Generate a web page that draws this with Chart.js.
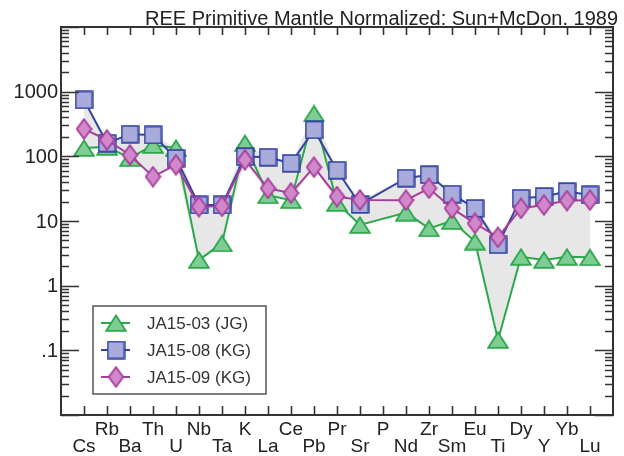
<!DOCTYPE html>
<html>
<head>
<meta charset="utf-8">
<script src="https://cdn.jsdelivr.net/npm/chart.js@4.4.1/dist/chart.umd.min.js"></script>
<style>
  html, body { margin: 0; padding: 0; background: #fff; }
  #wrap { width: 624px; height: 456px; position: relative; }
</style>
</head>
<body>
<div id="wrap"><canvas id="spider"></canvas></div>
<script>
// element order on the spider diagram
const elements = ['Cs', 'Rb', 'Ba', 'Th', 'U', 'Nb', 'Ta', 'K', 'La', 'Ce', 'Pb', 'Pr', 'Sr', 'P', 'Nd', 'Zr', 'Sm', 'Eu', 'Ti', 'Dy', 'Y', 'Yb', 'Lu'];

// normalized values (no P analysis -> null)
const ja1503 = [135, 140, 94, 150, 135, 2.5, 4.5, 160, 25, 21, 460, 19, 8.7, null, 13.5, 7.7, 10, 4.8, 0.145, 2.8, 2.5, 2.8, 2.75];
const ja1508 = [745, 160, 220, 214, 93, 17.7, 17.7, 99, 97, 78, 256, 61, 18, null, 46, 52, 26, 15.7, 4.3, 22.5, 24, 28.5, 25.3];
const ja1509 = [265, 179, 105, 48.5, 74, 16.7, 16.9, 88, 32, 27, 68, 23.9, 21.2, null, 21, 32, 15.7, 9.2, 5.6, 15.7, 17.7, 20.7, 21];

const seriesNames = ['JA15-03 (JG)', 'JA15-08 (KG)', 'JA15-09 (KG)'];

const yTickValues = [1000, 100, 10, 1, 0.1];
const yTickLabels = ['1000', '100', '10', '1', '.1'];

const titleText = 'REE Primitive Mantle Normalized: Sun+McDon. 1989';

const FONT = '"Liberation Sans", Arial, Helvetica, sans-serif';

function toPoints(vals) {
    return vals.map((v, i) => ({ x: i, y: v })).filter(p => p.y !== null);
}

// upper / lower bounds of all samples for the grey band
const upper = elements.map((e, i) => {
    const v = [ja1503[i], ja1508[i], ja1509[i]].filter(n => n !== null);
    return v.length ? Math.max(...v) : null;
});
const lower = elements.map((e, i) => {
    const v = [ja1503[i], ja1508[i], ja1509[i]].filter(n => n !== null);
    return v.length ? Math.min(...v) : null;
});

// marker sprites
function makeMarker(kind, fill, stroke) {
    const c = document.createElement('canvas');
    let w, h;
    if (kind === 'tri') { w = 22; h = 18; }
    else if (kind === 'sq') { w = 19; h = 19; }
    else { w = 17; h = 22; }
    c.width = w; c.height = h;
    const g = c.getContext('2d');
    g.fillStyle = fill;
    g.strokeStyle = stroke;
    g.lineWidth = 1.8;
    g.lineJoin = 'miter';
    g.beginPath();
    if (kind === 'tri') {
        g.moveTo(w / 2, 1.5);
        g.lineTo(w - 1.2, h - 1.2);
        g.lineTo(1.2, h - 1.2);
    } else if (kind === 'sq') {
        g.rect(1.2, 1.2, w - 2.4, h - 2.4);
    } else {
        g.moveTo(w / 2, 1.2);
        g.lineTo(w - 1.2, h / 2);
        g.lineTo(w / 2, h - 1.2);
        g.lineTo(1.2, h / 2);
    }
    g.closePath();
    g.fill();
    g.stroke();
    return c;
}

const colors = [
    { line: '#2aa84a', fill: '#80cc95' },
    { line: '#3544a3', fill: '#a9acdb' },
    { line: '#a63d9c', fill: '#d188ca' }
];
const markers = [
    makeMarker('tri', colors[0].fill, colors[0].line),
    makeMarker('sq', colors[1].fill, colors[1].line),
    makeMarker('dia', colors[2].fill, colors[2].line)
];

function sampleDataset(idx, vals, order) {
    return {
        label: seriesNames[idx],
        data: toPoints(vals),
        borderColor: colors[idx].line,
        borderWidth: 2,
        pointStyle: markers[idx],
        pointRadius: 9,
        fill: false,
        tension: 0,
        order: order
    };
}

const axesPlugin = {
    id: 'spiderAxes',
    afterDraw(chart) {
        const ctx = chart.ctx;
        const xs = chart.scales.x;
        const ys = chart.scales.y;
        const { left, right, top, bottom } = chart.chartArea;

        ctx.save();
        ctx.strokeStyle = '#333';
        ctx.lineWidth = 1.6;

        // element ticks, top and bottom
        ctx.beginPath();
        elements.forEach((e, i) => {
            const px = Math.round(xs.getPixelForValue(i)) + 0.5;
            ctx.moveTo(px, bottom); ctx.lineTo(px, bottom - 9);
            ctx.moveTo(px, top); ctx.lineTo(px, top + 8);
        });
        // log ticks, left and right
        for (let e = -2; e <= 4; e++) {
            const py = Math.round(ys.getPixelForValue(Math.pow(10, e))) + 0.5;
            ctx.moveTo(left, py); ctx.lineTo(left + 18, py);
            ctx.moveTo(right, py); ctx.lineTo(right - 18, py);
            if (e === 4) continue;
            for (let m = 2; m <= 9; m++) {
                const my = Math.round(ys.getPixelForValue(m * Math.pow(10, e))) + 0.5;
                ctx.moveTo(left, my); ctx.lineTo(left + 8, my);
                ctx.moveTo(right, my); ctx.lineTo(right - 8, my);
            }
        }
        ctx.stroke();

        // frame
        ctx.lineWidth = 2;
        ctx.strokeRect(left, top, right - left, bottom - top);

        // y labels
        ctx.fillStyle = '#222';
        ctx.font = '20px ' + FONT;
        ctx.textAlign = 'right';
        ctx.textBaseline = 'middle';
        yTickValues.forEach((v, i) => {
            ctx.fillText(yTickLabels[i], left - 3, ys.getPixelForValue(v) + 1);
        });

        // element labels in two staggered rows
        ctx.font = '19px ' + FONT;
        ctx.textAlign = 'center';
        ctx.textBaseline = 'alphabetic';
        elements.forEach((e, i) => {
            const px = xs.getPixelForValue(i);
            ctx.fillText(e, px, i % 2 === 1 ? 435 : 452);
        });

        // title
        ctx.font = '20px ' + FONT;
        ctx.textAlign = 'right';
        ctx.fillText(titleText, 618, 25);

        // legend
        const lx = 93, ly = 306, lw = 173, lh = 88;
        ctx.fillStyle = '#fff';
        ctx.fillRect(lx, ly, lw, lh);
        ctx.strokeStyle = '#555';
        ctx.lineWidth = 1.5;
        ctx.strokeRect(lx, ly, lw, lh);
        const rows = [323, 350, 377];
        ctx.font = '17px ' + FONT;
        ctx.textAlign = 'left';
        ctx.textBaseline = 'middle';
        rows.forEach((ry, i) => {
            ctx.strokeStyle = colors[i].line;
            ctx.lineWidth = 2;
            ctx.beginPath();
            ctx.moveTo(101, ry); ctx.lineTo(130, ry);
            ctx.stroke();
            const mk = markers[i];
            ctx.drawImage(mk, 116 - mk.width / 2, ry - mk.height / 2);
            ctx.fillStyle = '#333';
            ctx.fillText(seriesNames[i], 147, ry + 1);
        });

        ctx.restore();
    }
};

new Chart(document.getElementById('spider'), {
    type: 'line',
    data: {
        datasets: [
            sampleDataset(2, ja1509, 1),
            sampleDataset(1, ja1508, 2),
            sampleDataset(0, ja1503, 3),
            {
                label: 'max',
                data: toPoints(upper),
                borderWidth: 0,
                pointRadius: 0,
                backgroundColor: '#e7e7e7',
                fill: '+1',
                order: 4
            },
            {
                label: 'min',
                data: toPoints(lower),
                borderWidth: 0,
                pointRadius: 0,
                fill: false,
                order: 5
            }
        ]
    },
    options: {
        responsive: true,
        maintainAspectRatio: false,
        animation: false,
        layout: { padding: { left: 61, right: 8, top: 27, bottom: 41 } },
        scales: {
            x: { type: 'linear', min: -1, max: 23, display: false },
            y: { type: 'logarithmic', min: 0.01, max: 10000, display: false }
        },
        plugins: {
            legend: { display: false },
            tooltip: { enabled: false }
        }
    },
    plugins: [axesPlugin]
});
</script>
</body>
</html>
